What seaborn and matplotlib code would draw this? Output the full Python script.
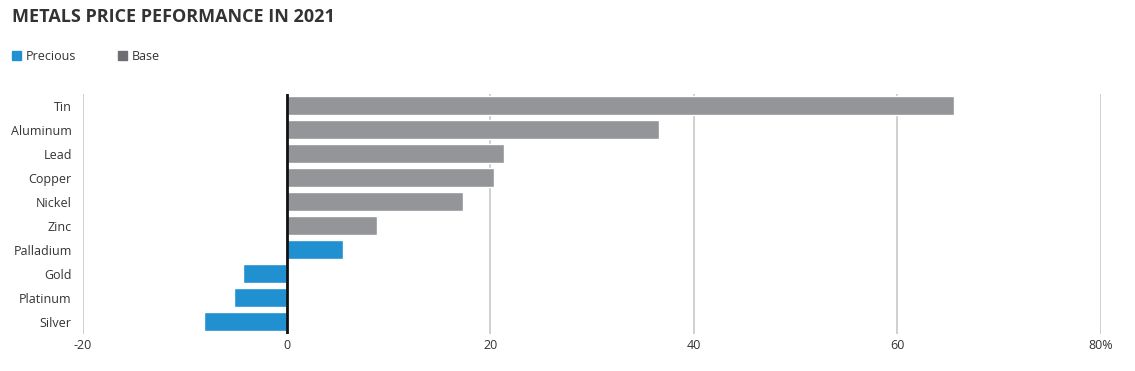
import matplotlib
matplotlib.use("Agg")
import matplotlib.pyplot as plt
import matplotlib.patches as mpatches
import seaborn as sns
import pandas as pd

metals = ["Tin", "Aluminum", "Lead", "Copper", "Nickel", "Zinc", "Palladium", "Gold", "Platinum", "Silver"]
change = [65.6, 36.6, 21.4, 20.4, 17.3, 8.9, 5.5, -4.3, -5.2, -8.1]
group = ["Base", "Base", "Base", "Base", "Base", "Base", "Precious", "Precious", "Precious", "Precious"]
xticks = [-20, 0, 20, 40, 60, 80]
xticklabels = ["-20", "0", "20", "40", "60", "80%"]

df = pd.DataFrame({"metal": metals, "change": change, "group": group})

sns.set_theme(style="white")
plt.rcParams["font.family"] = ["Open Sans", "DejaVu Sans"]

fig = plt.figure(figsize=(11.35, 3.71), dpi=100)
ax = fig.add_axes([0.0731, 0.100, 0.8970, 0.647])

palette = {"Precious": "#2190d0", "Base": "#949599"}
sns.barplot(data=df, x="change", y="metal", hue="group", palette=palette,
            dodge=False, width=0.8, ax=ax, legend=False, saturation=1, zorder=3)

ax.set_xlim(-20, 80)
ax.set_xticks(xticks)
ax.set_xticklabels(xticklabels)
ax.grid(axis="x", color="#cccccc", linewidth=1.3, zorder=0)
ax.set_axisbelow(True)
ax.axvline(0, color="#111111", linewidth=2, zorder=4)
for s in ax.spines.values():
    s.set_visible(False)
ax.set_xlabel("")
ax.set_ylabel("")
ax.tick_params(axis="both", length=0, labelsize=9, colors="#333333")
ax.tick_params(axis="y", pad=8)
ax.tick_params(axis="x", pad=4)

fig.text(0.0106, 0.955, "METALS PRICE PEFORMANCE IN 2021", fontsize=13,
         fontweight="bold", color="#333333", va="center", ha="left")

handles = [mpatches.Patch(color="#2190d0", label="Precious"),
           mpatches.Patch(color="#6d6e71", label="Base")]
fig.legend(handles=handles, loc="center left", bbox_to_anchor=(0.0005, 0.847),
           ncol=2, frameon=False, fontsize=9, handlelength=0.75, handleheight=0.75,
           handletextpad=0.4, columnspacing=3.3, labelcolor="#333333")

fig.savefig("out.png", dpi=100)
